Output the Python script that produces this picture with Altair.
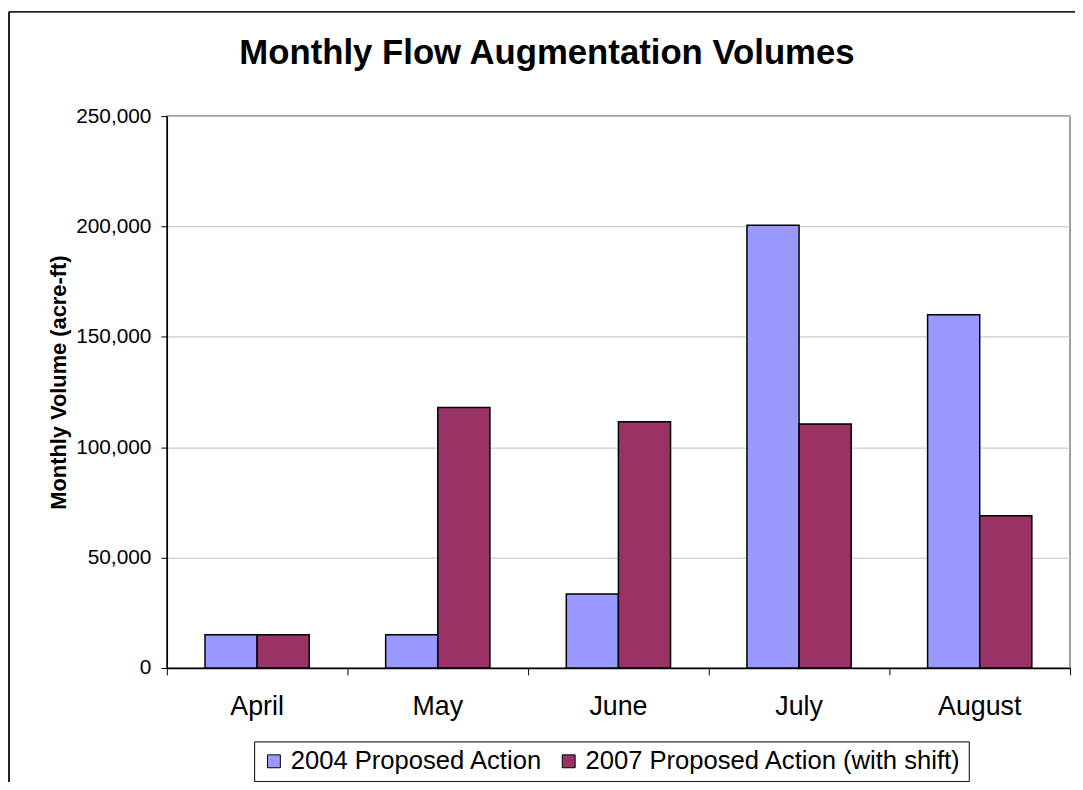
import altair as alt
import pandas as pd

months = ["April", "May", "June", "July", "August"]
series = ["2004 Proposed Action", "2007 Proposed Action (with shift)"]
vol_2004 = [15000, 15000, 33500, 200500, 160000]
vol_2007 = [15000, 118000, 111500, 110500, 69000]
y_ticks = [0, 50000, 100000, 150000, 200000, 250000]
colors = ["#9999FF", "#993366"]

rows = []
for m, a, b in zip(months, vol_2004, vol_2007):
    rows.append({"Month": m, "Series": series[0], "Volume": a})
    rows.append({"Month": m, "Series": series[1], "Volume": b})
df = pd.DataFrame(rows)

FONT = "Liberation Sans"

bars = alt.Chart(df).mark_bar(stroke="black", strokeWidth=1.5).encode(
    x=alt.X(
        "Month:N",
        sort=months,
        scale=alt.Scale(paddingInner=0, paddingOuter=0),
        axis=alt.Axis(
            title=None, bandPosition=1, tickExtra=True,
            labelAngle=0, labelFontSize=27, labelFont=FONT, labelColor="black",
            labelPadding=19, tickSize=7, tickColor="black", domainColor="black",
            domainWidth=1.5, grid=False,
        ),
    ),
    xOffset=alt.XOffset(
        "Series:N", sort=series,
        scale=alt.Scale(paddingOuter=0.733, paddingInner=0),
    ),
    y=alt.Y(
        "Volume:Q",
        scale=alt.Scale(domain=[0, 250000], nice=False),
        axis=alt.Axis(
            values=y_ticks, format=",.0f", title="Monthly Volume (acre-ft)",
            labelFontSize=21, labelFont=FONT, labelColor="black", labelPadding=10,
            tickSize=6, tickColor="black", domainColor="black", domainWidth=1.5,
            gridColor="#c0c0c0", gridWidth=1,
            titleFont=FONT, titleFontSize=22, titleFontWeight="bold",
            titleColor="black", titleAngle=270, titleX=-109, titleY=268,
            titleAlign="center", titleBaseline="middle",
        ),
    ),
    color=alt.Color(
        "Series:N", sort=series,
        scale=alt.Scale(domain=series, range=colors),
        legend=alt.Legend(
            orient="none", legendX=88, legendY=630, direction="horizontal",
            title=None, labelFontSize=25.8, labelFont=FONT, labelColor="black",
            labelLimit=0, symbolType="square", symbolSize=169,
            symbolStrokeColor="black", symbolStrokeWidth=1,
            strokeColor="black", padding=7, fillColor="white",
            columnPadding=13, labelOffset=4,
        ),
    ),
)

border_df = pd.DataFrame({"k": [0]})
border_left = alt.Chart(border_df).mark_rule(color="#222222", strokeWidth=2).encode(
    x=alt.value(-159), y=alt.value(-105), y2=alt.value(700)
)
border_top = alt.Chart(border_df).mark_rule(color="#222222", strokeWidth=2).encode(
    x=alt.value(-159), x2=alt.value(940), y=alt.value(-105)
)

chart = alt.layer(bars, border_left, border_top).properties(
    width=910,
    height=556,
    title=alt.TitleParams(
        "Monthly Flow Augmentation Volumes", fontSize=35, font=FONT,
        fontWeight="bold", color="black", anchor="middle", dx=-72,
        offset=30, dy=91,
    ),
    autosize=alt.AutoSizeParams(type="none"),
    padding={"left": 160, "top": 106, "right": 5, "bottom": 112},
).configure_view(stroke="#808080", strokeWidth=1.5)

chart.save("out.html", embed_options={"renderer": "svg", "actions": False})
